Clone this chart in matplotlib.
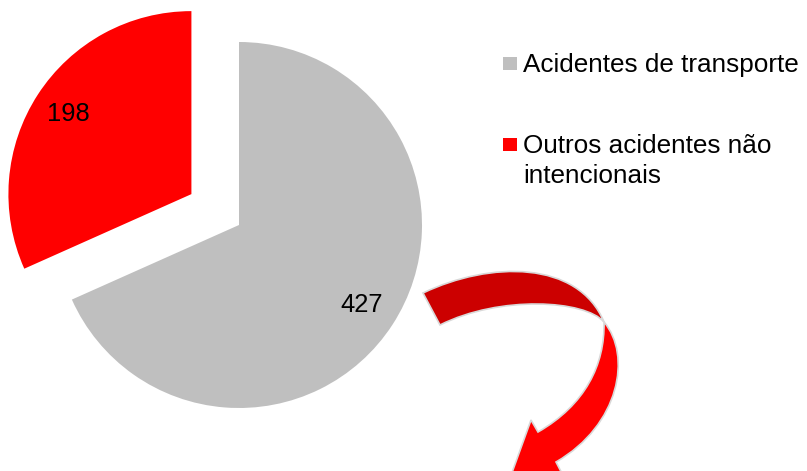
import matplotlib.pyplot as plt
from matplotlib.path import Path
from matplotlib.patches import PathPatch, Rectangle

plt.rcParams['font.family'] = ['Liberation Sans', 'DejaVu Sans']

categories = ['Acidentes de transporte', 'Outros acidentes não\nintencionais']
values = [427, 198]
colors = ['#bfbfbf', '#ff0000']
explode = [0, 0.31]

W, H = 807, 471
fig = plt.figure(figsize=(W / 100, H / 100), dpi=100)

# pie axes, pie centre at pixel (239, 225), radius 183 px
R = 183.0
cx, cy = 239.0, 225.0
ax = fig.add_axes([0, 0, 1, 1])
total = sum(values)
wedges, texts, autotexts = ax.pie(
    values, colors=colors, explode=explode, startangle=90, counterclock=False,
    autopct=lambda p: '%d' % round(p * total / 100.0), pctdistance=0.8,
    textprops={'fontsize': 18.4, 'color': 'black'})
ax.set_xlim(-cx / R, (W - cx) / R)
ax.set_ylim(-(H - cy) / R, cy / R)
ax.set_aspect('auto')
ax.axis('off')

# overlay in pixel coords for legend and the curved arrow
ov = fig.add_axes([0, 0, 1, 1])
ov.set_xlim(0, W)
ov.set_ylim(H, 0)
ov.axis('off')
ov.set_zorder(2)

# legend drawn by hand
baselines = [72, 153]
for lab, col, yb in zip(categories, colors, baselines):
    ov.add_patch(Rectangle((503, yb - 15), 14, 13, facecolor=col, edgecolor='none'))
    for i, line in enumerate(lab.split('\n')):
        ov.text(523, yb + 30 * i, line, fontsize=18.8, va='baseline', ha='left', color='black')

# curved arrow: dark back part
C = Path.CURVE4
dark = Path([(423, 293), (490, 261), (578, 260), (604, 322),
             (585, 300), (500, 295), (440, 325), (423, 293)],
            [Path.MOVETO, C, C, C, C, C, C, Path.CLOSEPOLY])
ov.add_patch(PathPatch(dark, facecolor='#cc0000', edgecolor='#d9d9d9', lw=1.2))

# bright front part with the head
bright = Path([(604, 322), (632, 355), (620, 425), (556, 462),
               (568, 485), (505, 492), (531, 420), (538, 432),
               (585, 405), (605, 365), (604, 322), (604, 322)],
              [Path.MOVETO, C, C, C,
               Path.LINETO, Path.LINETO, Path.LINETO, Path.LINETO,
               C, C, C, Path.CLOSEPOLY])
ov.add_patch(PathPatch(bright, facecolor='#ff0000', edgecolor='#d9d9d9', lw=1.2))

fig.savefig('out.png', dpi=100)
